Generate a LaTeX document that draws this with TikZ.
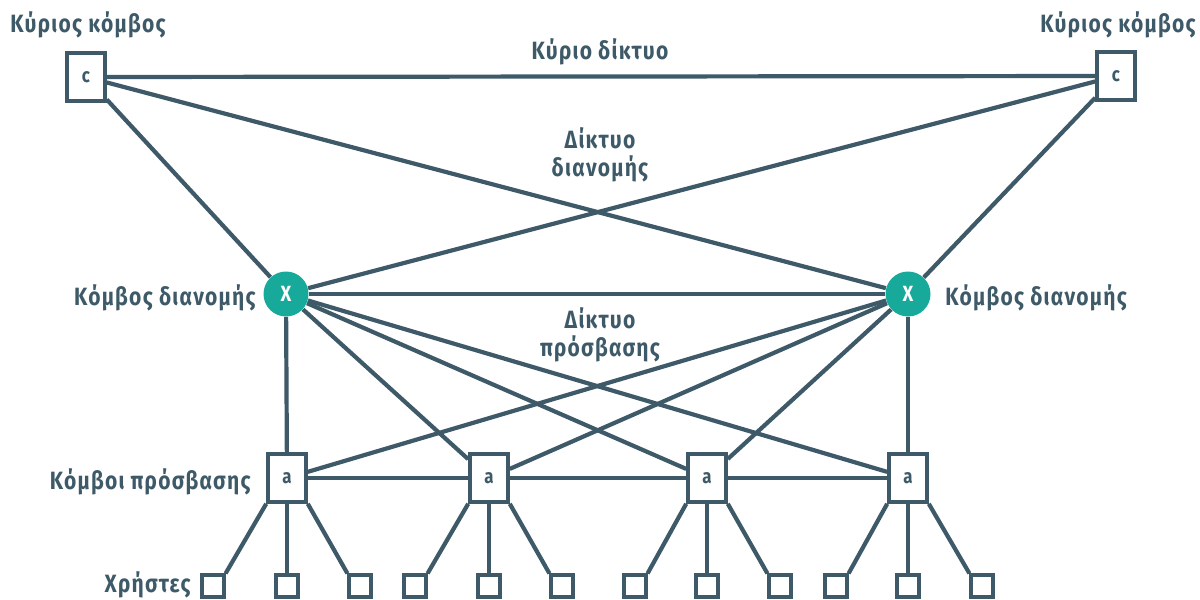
\documentclass[tikz,border=0pt]{standalone}
\usepackage{fontspec}
\setmainfont{Fira Sans}[FakeStretch=0.84, LetterSpace=5]
\definecolor{ink}{HTML}{3E5A68}
\definecolor{tealc}{HTML}{17A99A}
\begin{document}
\begin{tikzpicture}[x=0.5pt,y=-0.5pt,
  lbl/.style={text=ink, font=\bfseries\fontsize{12.5}{14}\selectfont, inner sep=0pt},
  cbox/.style={draw=ink, line width=1.8pt, fill=white, minimum width=19pt, minimum height=24pt, inner sep=0pt, text=ink, font=\bfseries\fontsize{10}{12}\selectfont},
  xnode/.style={circle, fill=tealc, minimum size=22.5pt, inner sep=0pt, text=white, font=\bfseries\fontsize{11}{12}\selectfont},
  ubox/.style={draw=ink, line width=1.6pt, fill=white, minimum size=11pt, inner sep=0pt},
  link/.style={draw=ink, line width=2.1pt}]
\useasboundingbox (0,0) rectangle (1200,600);
% main nodes
\node[cbox] (c1) at (86,77) {c};
\node[cbox] (c2) at (1116,76) {c};
% distribution nodes
\node[xnode] (x1) at (286,294) {X};
\node[xnode] (x2) at (908,294) {X};
% access nodes
\node[cbox] (a1) at (287,478) {a};
\node[cbox] (a2) at (489,478) {a};
\node[cbox] (a3) at (707,478) {a};
\node[cbox] (a4) at (908,478) {a};
% users
\foreach \i/\x in {1/213,2/287,3/360,4/415,5/489,6/562,7/635,8/707,9/780,10/836,11/908,12/982}
  \node[ubox] (u\i) at (\x,586) {};
% labels
\node[lbl] (l1) at (88,25) {Κύριος κόμβος};
\node[lbl] (l2) at (1118,25) {Κύριος κόμβος};
\node[lbl] (l3) at (600,52) {Κύριο δίκτυο};
\node[lbl, align=center] (l4) at (600,155) {Δίκτυο\\διανομής};
\node[lbl, anchor=east] (l5) at (256,298) {Κόμβος διανομής};
\node[lbl, anchor=west] (l6) at (945,298) {Κόμβος διανομής};
\node[lbl, align=center] (l7) at (600,335) {Δίκτυο\\πρόσβασης};
\node[lbl, anchor=east] (l8) at (251,482) {Κόμβοι πρόσβασης};
\node[lbl, anchor=east] (l9) at (191,585) {Χρήστες};
% links
\draw[link] (c1) -- (c2);
\draw[link] (c1) -- (x1);
\draw[link] (c1) -- (x2);
\draw[link] (c2) -- (x1);
\draw[link] (c2) -- (x2);
\draw[link] (x1) -- (x2);
\foreach \a in {a1,a2,a3,a4} {
  \draw[link] (x1) -- (\a);
  \draw[link] (x2) -- (\a);
}
\draw[link] (a1) -- (a2);
\draw[link] (a2) -- (a3);
\draw[link] (a3) -- (a4);
\foreach \a/\p/\q/\r in {a1/u1/u2/u3,a2/u4/u5/u6,a3/u7/u8/u9,a4/u10/u11/u12} {
  \draw[link] (\a.south west) -- (\p.north east);
  \draw[link] (\a.south) -- (\q.north);
  \draw[link] (\a.south east) -- (\r.north west);
}
\end{tikzpicture}
\end{document}
